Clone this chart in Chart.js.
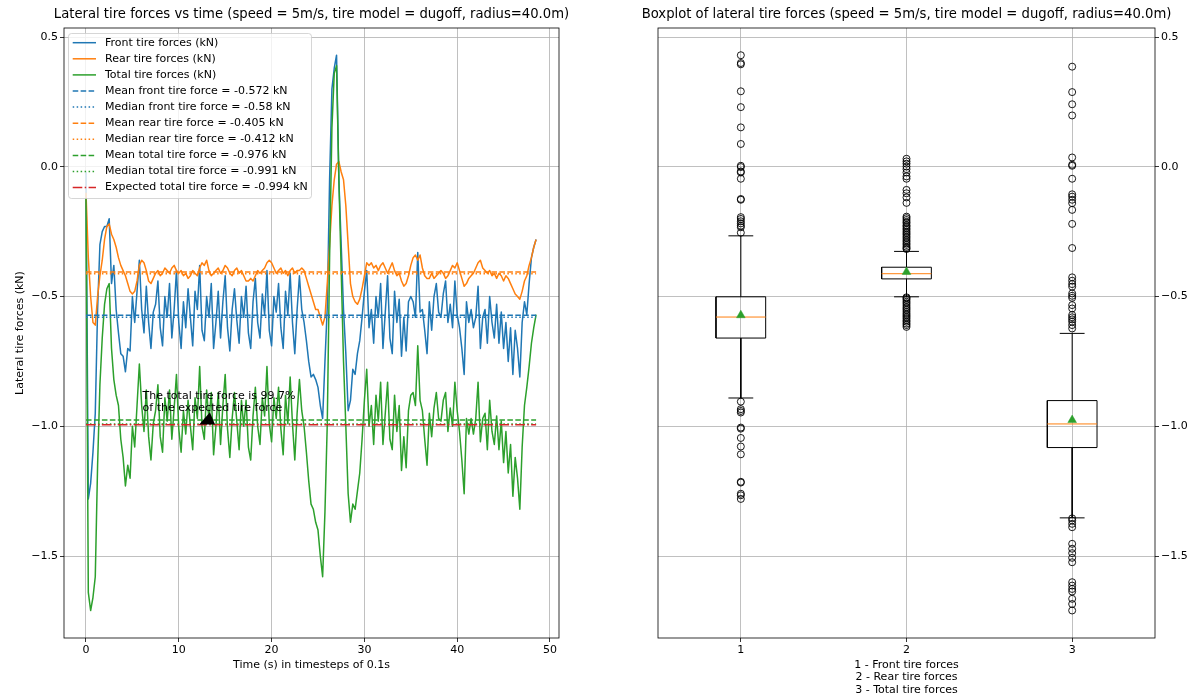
<!DOCTYPE html>
<html><head><meta charset="utf-8">
<script src="https://cdn.jsdelivr.net/npm/chart.js@4.4.1/dist/chart.umd.min.js"></script>
<style>
html,body{margin:0;padding:0;background:#fff;}
#wrap{position:relative;width:1198px;height:700px;overflow:hidden;}
#c1{position:absolute;left:0;top:0;}
#c2{position:absolute;left:600px;top:0;}
</style></head><body>
<div id="wrap"><canvas id="c1" width="600" height="700"></canvas><canvas id="c2" width="598" height="700"></canvas></div>
<script>
// ---------------- DATA ----------------
const time = [0,0.25,0.5,0.75,1,1.25,1.5,1.75,2,2.25,2.5,2.75,3,3.25,3.5,3.75,4,4.25,4.5,4.75,5,5.25,5.5,5.75,6,6.25,6.5,6.75,7,7.25,7.5,7.75,8,8.25,8.5,8.75,9,9.25,9.5,9.75,10,10.25,10.5,10.75,11,11.25,11.5,11.75,12,12.25,12.5,12.75,13,13.25,13.5,13.75,14,14.25,14.5,14.75,15,15.25,15.5,15.75,16,16.25,16.5,16.75,17,17.25,17.5,17.75,18,18.25,18.5,18.75,19,19.25,19.5,19.75,20,20.25,20.5,20.75,21,21.25,21.5,21.75,22,22.25,22.5,22.75,23,23.25,23.5,23.75,24,24.25,24.5,24.75,25,25.25,25.5,25.75,26,26.25,26.5,26.75,27,27.25,27.5,27.75,28,28.25,28.5,28.75,29,29.25,29.5,29.75,30,30.25,30.5,30.75,31,31.25,31.5,31.75,32,32.25,32.5,32.75,33,33.25,33.5,33.75,34,34.25,34.5,34.75,35,35.25,35.5,35.75,36,36.25,36.5,36.75,37,37.25,37.5,37.75,38,38.25,38.5,38.75,39,39.25,39.5,39.75,40,40.25,40.5,40.75,41,41.25,41.5,41.75,42,42.25,42.5,42.75,43,43.25,43.5,43.75,44,44.25,44.5,44.75,45,45.25,45.5,45.75,46,46.25,46.5,46.75,47,47.25,47.5,47.75,48,48.25,48.5];

const frontForce = [
-0.02,-1.28,-1.22,-1.10, -0.95,-0.55,-0.30,-0.25, -0.23,-0.23,-0.20,-0.45, -0.38,-0.55,-0.64,-0.72,
-0.73,-0.79,-0.70,-0.71, -0.50,-0.60,-0.48,-0.36, -0.55,-0.64,-0.46,-0.60, -0.70,-0.56,-0.53,-0.44,
-0.62,-0.69,-0.50,-0.58, -0.45,-0.66,-0.55,-0.40, -0.60,-0.70,-0.52,-0.62, -0.47,-0.58,-0.69,-0.48,
-0.55,-0.38,-0.63,-0.67, -0.50,-0.58,-0.45,-0.70, -0.60,-0.48,-0.66,-0.52, -0.42,-0.62,-0.71,-0.55,
-0.47,-0.59,-0.68,-0.50, -0.58,-0.46,-0.64,-0.70, -0.52,-0.43,-0.60,-0.66, -0.49,-0.57,-0.40,-0.63,
-0.69,-0.50,-0.56,-0.45, -0.62,-0.70,-0.48,-0.57, -0.41,-0.60,-0.72,-0.55, -0.42,-0.55,-0.60,-0.67,
-0.75,-0.81,-0.80,-0.82, -0.85,-0.92,-0.97,-0.75, -0.54,-0.05,0.30,0.38, 0.43,-0.05,-0.30,-0.55,
-0.72,-0.94,-0.90,-0.78, -0.80,-0.72,-0.67,-0.58, -0.48,-0.40,-0.62,-0.55, -0.68,-0.50,-0.58,-0.45,
-0.70,-0.56,-0.42,-0.66, -0.72,-0.48,-0.60,-0.51, -0.73,-0.58,-0.71,-0.52, -0.50,-0.52,-0.58,-0.33,
-0.56,-0.55,-0.63,-0.72, -0.52,-0.63,-0.50,-0.45, -0.56,-0.58,-0.49,-0.44, -0.60,-0.53,-0.62,-0.44,
-0.57,-0.62,-0.70,-0.80, -0.52,-0.60,-0.55,-0.62, -0.58,-0.46,-0.70,-0.58, -0.55,-0.68,-0.50,-0.60,
-0.66,-0.53,-0.68,-0.56, -0.70,-0.60,-0.75,-0.62, -0.80,-0.63,-0.70,-0.81, -0.60,-0.52,-0.57,-0.45,
-0.35,-0.31,-0.28];

const rearForce = [
-0.10,-0.35,-0.50,-0.60, -0.61,-0.50,-0.42,-0.36, -0.28,-0.23,-0.22,-0.26, -0.28,-0.31,-0.35,-0.38,
-0.40,-0.42,-0.45,-0.48, -0.49,-0.48,-0.44,-0.38, -0.36,-0.37,-0.40,-0.44, -0.45,-0.43,-0.41,-0.40,
-0.42,-0.41,-0.39,-0.40, -0.41,-0.39,-0.38,-0.40, -0.41,-0.40,-0.42,-0.41, -0.43,-0.42,-0.40,-0.41,
-0.42,-0.39,-0.37,-0.38, -0.36,-0.40,-0.42,-0.41, -0.40,-0.39,-0.41,-0.40, -0.38,-0.39,-0.41,-0.42,
-0.40,-0.39,-0.41,-0.40, -0.42,-0.44,-0.44,-0.43, -0.44,-0.42,-0.40,-0.41, -0.40,-0.39,-0.37,-0.36,
-0.37,-0.39,-0.41,-0.40, -0.39,-0.41,-0.40,-0.42, -0.40,-0.39,-0.41,-0.40, -0.40,-0.39,-0.40,-0.43,
-0.46,-0.49,-0.52,-0.55, -0.55,-0.58,-0.61,-0.58, -0.45,-0.30,-0.15,-0.05, 0.01,0.02,-0.02,-0.05,
-0.15,-0.30,-0.45,-0.50, -0.52,-0.53,-0.51,-0.47, -0.42,-0.37,-0.38,-0.37, -0.39,-0.38,-0.40,-0.38,
-0.37,-0.39,-0.41,-0.39, -0.37,-0.40,-0.42,-0.41, -0.44,-0.46,-0.45,-0.42, -0.38,-0.35,-0.34,-0.36,
-0.34,-0.39,-0.42,-0.43, -0.43,-0.41,-0.43,-0.42, -0.41,-0.40,-0.41,-0.43, -0.42,-0.40,-0.38,-0.39,
-0.37,-0.40,-0.43,-0.46, -0.45,-0.43,-0.42,-0.41, -0.39,-0.37,-0.36,-0.39, -0.40,-0.41,-0.40,-0.42,
-0.41,-0.43,-0.41,-0.42, -0.44,-0.42,-0.43,-0.45, -0.47,-0.49,-0.50,-0.51, -0.48,-0.44,-0.42,-0.38,
-0.35,-0.31,-0.28];

const totalForce = [
-0.12,-1.64,-1.71,-1.66, -1.58,-1.15,-0.84,-0.66, -0.53,-0.47,-0.45,-0.70, -0.82,-0.88,-0.92,-1.05,
-1.12,-1.23,-1.15,-1.20, -1.00,-1.08,-0.92,-0.76, -0.92,-1.02,-0.86,-1.04, -1.13,-0.99,-0.94,-0.84,
-1.04,-1.10,-0.89,-0.98, -0.86,-1.05,-0.93,-0.80, -1.01,-1.10,-0.94,-1.03, -0.90,-1.00,-1.09,-0.89,
-0.97,-0.77,-1.00,-1.05, -0.86,-0.98,-0.87,-1.11, -1.00,-0.87,-1.07,-0.92, -0.80,-1.01,-1.12,-0.97,
-0.87,-0.98,-1.09,-0.90, -1.00,-0.90,-1.08,-1.13, -0.96,-0.85,-1.00,-1.07, -0.89,-0.96,-0.77,-0.99,
-1.06,-0.89,-0.97,-0.85, -1.01,-1.11,-0.88,-0.99, -0.81,-0.99,-1.13,-0.95, -0.82,-0.94,-1.00,-1.10,
-1.21,-1.30,-1.32,-1.37, -1.40,-1.50,-1.58,-1.33, -0.99,-0.35,0.15,0.36, 0.39,-0.05,-0.40,-0.75,
-1.00,-1.26,-1.37,-1.30, -1.32,-1.25,-1.18,-1.05, -0.90,-0.78,-1.00,-0.92, -1.07,-0.88,-0.98,-0.83,
-1.07,-0.95,-0.83,-1.05, -1.09,-0.88,-1.02,-0.92, -1.17,-1.04,-1.16,-0.94, -0.88,-0.87,-0.92,-0.69,
-0.90,-0.94,-1.05,-1.15, -0.95,-1.04,-0.93,-0.87, -0.97,-0.98,-0.90,-0.87, -1.02,-0.93,-1.00,-0.83,
-0.94,-1.02,-1.13,-1.26, -0.97,-1.03,-0.97,-1.03, -0.97,-0.83,-1.06,-0.97, -0.95,-1.09,-0.90,-1.02,
-1.07,-0.96,-1.09,-0.98, -1.14,-1.02,-1.18,-1.07, -1.27,-1.12,-1.20,-1.32, -1.08,-0.92,-0.85,-0.77,
-0.68,-0.62,-0.57];

const meanFront = -0.572, medianFront = -0.58;
const meanRear = -0.405, medianRear = -0.412;
const meanTotal = -0.976, medianTotal = -0.991;
const expectedTotal = -0.994;

const seriesLabels = ['Front tire forces (kN)','Rear tire forces (kN)','Total tire forces (kN)'];
const refLabels = ['Mean front tire force = -0.572 kN','Median front tire force = -0.58 kN',
  'Mean rear tire force = -0.405 kN','Median rear tire force = -0.412 kN',
  'Mean total tire force = -0.976 kN','Median total tire force = -0.991 kN',
  'Expected total tire force = -0.994 kN'];
const refValues = [meanFront, medianFront, meanRear, medianRear, meanTotal, medianTotal, expectedTotal];

const timeTicks = [0,10,20,30,40,50];
const forceTicks = [-1.5,-1.0,-0.5,0.0,0.5];
const timeRange = [-2.37, 50.97];
const forceRange = [-1.816, 0.535];

// annotation (data coordinates)
const annotationLines = ['The total tire force is 99.7%','of the expected tire force'];
const annotationAnchor = [6.1, -0.884];
const arrowT = [12.2, 13.35, 13.9];
const arrowV = [-0.993, -0.946, -0.993];

// boxplot data
const boxCategories = [1,2,3];
const boxCaption = ['1 - Front tire forces','2 - Rear tire forces','3 - Total tire forces'];
const boxQ1 = [-0.660, -0.432, -1.082];
const boxMedian = [-0.579, -0.412, -0.991];
const boxQ3 = [-0.501, -0.387, -0.901];
const whiskerLow = [-0.891, -0.501, -1.353];
const whiskerHigh = [-0.266, -0.326, -0.642];
const boxMean = [-0.572, -0.405, -0.976];
const outliersFront = [0.430,0.400,0.395,0.291,0.230,0.152,0.088,0.004,-0.001,-0.018,-0.022,-0.046,-0.124,-0.127,
  -0.194,-0.201,-0.210,-0.218,-0.227,-0.233,-0.254,
  -0.905,-0.934,-0.941,-0.947,-1.005,-1.009,-1.045,-1.078,-1.108,-1.214,-1.217,-1.260,-1.266,-1.280];
const outliersRear = [0.031,0.021,0.012,0.001,-0.009,-0.022,-0.037,-0.046,-0.089,-0.102,-0.118,-0.139,
  -0.192,-0.198,-0.205,-0.212,-0.217,-0.225,-0.230,-0.237,-0.243,-0.250,-0.256,-0.262,-0.269,-0.275,-0.282,-0.288,-0.295,-0.301,-0.308,-0.313,-0.317,
  -0.503,-0.507,-0.513,-0.520,-0.526,-0.533,-0.540,-0.546,-0.552,-0.559,-0.566,-0.572,-0.578,-0.584,-0.591,-0.597,-0.604,-0.610,-0.617];
const outliersTotal = [0.386,0.288,0.241,0.198,0.036,0.008,0.004,-0.046,-0.106,-0.115,-0.127,-0.140,-0.166,-0.220,-0.313,
  -0.426,-0.439,-0.452,-0.462,-0.488,-0.497,-0.505,-0.533,-0.546,-0.571,-0.580,-0.588,-0.597,-0.610,-0.623,
  -1.355,-1.363,-1.376,-1.389,-1.453,-1.472,-1.489,-1.507,-1.524,-1.601,-1.614,-1.627,-1.637,-1.665,-1.685,-1.710];
const boxRange = [0.5, 3.5];

// ---------------- STYLE ----------------
const FONT = '"DejaVu Sans", "Liberation Sans", sans-serif';
const FS = 11, TITLE_FS = 13.2;
const C = {blue:'#1f77b4', orange:'#ff7f0e', green:'#2ca02c', red:'#d62728'};
const DASH = [5.55, 2.4], DOT = [1.5, 2.475], DASHDOT = [9.6, 2.4, 1.5, 2.4];
const refStyles = [[C.blue,DASH],[C.blue,DOT],[C.orange,DASH],[C.orange,DOT],[C.green,DASH],[C.green,DOT],[C.red,DASHDOT]];
const fmtForce = v => (v < 0 ? '\u2212' : '') + Math.abs(v).toFixed(1);
const GRID = '#b0b0b0';

Chart.defaults.font.family = FONT;
Chart.defaults.font.size = FS;
Chart.defaults.color = '#000';

function axisCommon(ticksArr, fmt) {
  return {
    type: 'linear',
    afterBuildTicks: s => { s.ticks = ticksArr.map(v => ({value: v})); },
    ticks: { autoSkip: false, maxRotation: 0, padding: 2, color: '#000', font: {size: FS, family: FONT}, callback: fmt },
    grid: { color: GRID, lineWidth: 0.8, drawTicks: true, tickLength: 4, tickColor: '#000', tickWidth: 0.8 },
    border: { display: false }
  };
}

function drawFrame(chart) {
  const ctx = chart.ctx, ca = chart.chartArea;
  ctx.save();
  ctx.strokeStyle = '#000'; ctx.lineWidth = 0.8;
  ctx.strokeRect(ca.left, ca.top, ca.right - ca.left, ca.bottom - ca.top);
  ctx.restore();
}

// ---------------- LEFT CHART ----------------
const seriesColors = [C.blue, C.orange, C.green];
const seriesValues = [frontForce, rearForce, totalForce];
const leftDatasets = [];
seriesValues.forEach((vals, i) => {
  leftDatasets.push({
    label: seriesLabels[i],
    data: time.map((t, k) => ({x: t, y: vals[k]})),
    borderColor: seriesColors[i], borderWidth: 1.5, borderDash: [],
    pointRadius: 0, tension: 0, fill: false, borderJoinStyle: 'round', order: -leftDatasets.length
  });
});
refValues.forEach((v, i) => {
  leftDatasets.push({
    label: refLabels[i],
    data: [{x: time[0], y: v}, {x: time[time.length - 1], y: v}],
    borderColor: refStyles[i][0], borderWidth: 1.5, borderDash: refStyles[i][1],
    pointRadius: 0, fill: false, order: -leftDatasets.length
  });
});

const leftDecor = {
  id: 'leftDecor',
  afterDatasetsDraw(chart) {
    const ctx = chart.ctx, ca = chart.chartArea, xs = chart.scales.x, ys = chart.scales.y;
    // annotation arrow head
    ctx.save();
    ctx.beginPath();
    arrowT.forEach((t, i) => {
      const px = xs.getPixelForValue(t), py = ys.getPixelForValue(arrowV[i]);
      if (i === 0) ctx.moveTo(px, py); else ctx.lineTo(px, py);
    });
    ctx.closePath(); ctx.fillStyle = '#000'; ctx.fill();
    // annotation text
    ctx.font = FS + 'px ' + FONT; ctx.fillStyle = '#000'; ctx.textBaseline = 'middle'; ctx.textAlign = 'left';
    const ax = xs.getPixelForValue(annotationAnchor[0]), ay = ys.getPixelForValue(annotationAnchor[1]);
    annotationLines.forEach((s, i) => ctx.fillText(s, ax, ay + i * 12));
    ctx.restore();
    drawFrame(chart);
    // legend
    ctx.save();
    const lx = ca.left + 4.5, ly = ca.top + 5.5, lw = 243, lh = 165, r = 3;
    ctx.beginPath();
    ctx.moveTo(lx + r, ly); ctx.lineTo(lx + lw - r, ly); ctx.quadraticCurveTo(lx + lw, ly, lx + lw, ly + r);
    ctx.lineTo(lx + lw, ly + lh - r); ctx.quadraticCurveTo(lx + lw, ly + lh, lx + lw - r, ly + lh);
    ctx.lineTo(lx + r, ly + lh); ctx.quadraticCurveTo(lx, ly + lh, lx, ly + lh - r);
    ctx.lineTo(lx, ly + r); ctx.quadraticCurveTo(lx, ly, lx + r, ly); ctx.closePath();
    ctx.fillStyle = 'rgba(255,255,255,0.8)'; ctx.fill();
    ctx.strokeStyle = 'rgba(204,204,204,0.8)'; ctx.lineWidth = 1; ctx.stroke();
    chart.data.datasets.forEach((ds, i) => {
      const cy = ca.top + 14.7 + i * 16.1;
      ctx.beginPath(); ctx.setLineDash(ds.borderDash || []);
      ctx.strokeStyle = ds.borderColor; ctx.lineWidth = 1.5;
      ctx.moveTo(ca.left + 8.7, cy); ctx.lineTo(ca.left + 32, cy); ctx.stroke();
      ctx.setLineDash([]);
      ctx.fillStyle = '#000'; ctx.font = FS + 'px ' + FONT; ctx.textBaseline = 'middle'; ctx.textAlign = 'left';
      ctx.fillText(ds.label, ca.left + 41, cy);
    });
    ctx.restore();
  },
  afterDraw(chart) {
    const ctx = chart.ctx, ca = chart.chartArea;
    const cx = (ca.left + ca.right) / 2;
    ctx.save();
    ctx.fillStyle = '#000'; ctx.textAlign = 'center'; ctx.textBaseline = 'middle';
    ctx.font = TITLE_FS + 'px ' + FONT;
    ctx.fillText('Lateral tire forces vs time (speed = 5m/s, tire model = dugoff, radius=40.0m)', cx, 15);
    ctx.font = FS + 'px ' + FONT;
    ctx.fillText('Time (s) in timesteps of 0.1s', cx, ca.bottom + 27);
    ctx.translate(20, (ca.top + ca.bottom) / 2); ctx.rotate(-Math.PI / 2);
    ctx.fillText('Lateral tire forces (kN)', 0, 0);
    ctx.restore();
  }
};

const leftX = axisCommon(timeTicks, v => String(v));
leftX.min = timeRange[0]; leftX.max = timeRange[1]; leftX.position = 'bottom';
leftX.afterFit = s => { s.height = 62; };
leftX.ticks.padding = 2;
const leftY = axisCommon(forceTicks, fmtForce);
leftY.min = forceRange[0]; leftY.max = forceRange[1]; leftY.position = 'left';
leftY.afterFit = s => { s.width = 64; };

new Chart(document.getElementById('c1'), {
  type: 'line',
  data: { datasets: leftDatasets },
  options: {
    responsive: false, animation: false, events: [],
    layout: { padding: { top: 28, right: 41, left: 0, bottom: 0 } },
    plugins: { legend: { display: false }, tooltip: { enabled: false }, title: { display: false } },
    scales: { x: leftX, y: leftY }
  },
  plugins: [leftDecor]
});

// ---------------- RIGHT CHART (boxplot) ----------------
const BOX_HALF = 0.15, CAP_HALF = 0.075;
const boxPts = [], whiskPts = [], capPts = [], medPts = [], meanPts = [], outPts = [];
const outlierSets = [outliersFront, outliersRear, outliersTotal];
boxCategories.forEach((p, i) => {
  boxPts.push({x: p - BOX_HALF, y: boxQ1[i]}, {x: p + BOX_HALF, y: boxQ1[i]}, {x: p + BOX_HALF, y: boxQ3[i]},
              {x: p - BOX_HALF, y: boxQ3[i]}, {x: p - BOX_HALF, y: boxQ1[i]}, {x: p, y: null});
  whiskPts.push({x: p, y: boxQ3[i]}, {x: p, y: whiskerHigh[i]}, {x: p, y: null},
                {x: p, y: boxQ1[i]}, {x: p, y: whiskerLow[i]}, {x: p, y: null});
  capPts.push({x: p - CAP_HALF, y: whiskerHigh[i]}, {x: p + CAP_HALF, y: whiskerHigh[i]}, {x: p, y: null},
              {x: p - CAP_HALF, y: whiskerLow[i]}, {x: p + CAP_HALF, y: whiskerLow[i]}, {x: p, y: null});
  medPts.push({x: p - BOX_HALF, y: boxMedian[i]}, {x: p + BOX_HALF, y: boxMedian[i]}, {x: p, y: null});
  meanPts.push({x: p, y: boxMean[i]});
  outlierSets[i].forEach(v => outPts.push({x: p, y: v}));
});

const rightDatasets = [
  { label: 'mean', data: meanPts, showLine: false, pointStyle: 'triangle', pointRadius: 5,
    pointBackgroundColor: C.green, pointBorderColor: C.green, pointBorderWidth: 0.5 },
  { label: 'median', data: medPts, showLine: true, spanGaps: false, borderColor: C.orange, borderWidth: 1, pointRadius: 0 },
  { label: 'box', data: boxPts, showLine: true, spanGaps: false, borderColor: '#000', borderWidth: 1, pointRadius: 0 },
  { label: 'whiskers', data: whiskPts, showLine: true, spanGaps: false, borderColor: '#000', borderWidth: 1, pointRadius: 0 },
  { label: 'caps', data: capPts, showLine: true, spanGaps: false, borderColor: '#000', borderWidth: 1, pointRadius: 0 },
  { label: 'fliers', data: outPts, showLine: false, pointStyle: 'circle', pointRadius: 3.5,
    pointBackgroundColor: 'rgba(0,0,0,0)', pointBorderColor: '#000', pointBorderWidth: 0.9 }
];

const rightDecor = {
  id: 'rightDecor',
  afterDatasetsDraw(chart) { drawFrame(chart); },
  afterDraw(chart) {
    const ctx = chart.ctx, ca = chart.chartArea;
    const cx = (ca.left + ca.right) / 2;
    ctx.save();
    ctx.fillStyle = '#000'; ctx.textAlign = 'center'; ctx.textBaseline = 'middle';
    ctx.font = TITLE_FS + 'px ' + FONT;
    ctx.fillText('Boxplot of lateral tire forces (speed = 5m/s, tire model = dugoff, radius=40.0m)', cx, 15);
    ctx.font = FS + 'px ' + FONT;
    boxCaption.forEach((s, i) => ctx.fillText(s, cx, ca.bottom + 27 + i * 12.5));
    ctx.restore();
  }
};

const rightX = axisCommon(boxCategories, v => String(v));
rightX.min = boxRange[0]; rightX.max = boxRange[1]; rightX.position = 'bottom';
rightX.afterFit = s => { s.height = 62; };
rightX.ticks.padding = 2;
const rightY = axisCommon(forceTicks, fmtForce);
rightY.min = forceRange[0]; rightY.max = forceRange[1]; rightY.position = 'right';
rightY.afterFit = s => { s.width = 43; };

new Chart(document.getElementById('c2'), {
  type: 'line',
  data: { datasets: rightDatasets },
  options: {
    responsive: false, animation: false, events: [],
    layout: { padding: { top: 28, right: 0, left: 58, bottom: 0 } },
    plugins: { legend: { display: false }, tooltip: { enabled: false }, title: { display: false } },
    scales: { x: rightX, y: rightY }
  },
  plugins: [rightDecor]
});
</script>
</body></html>
